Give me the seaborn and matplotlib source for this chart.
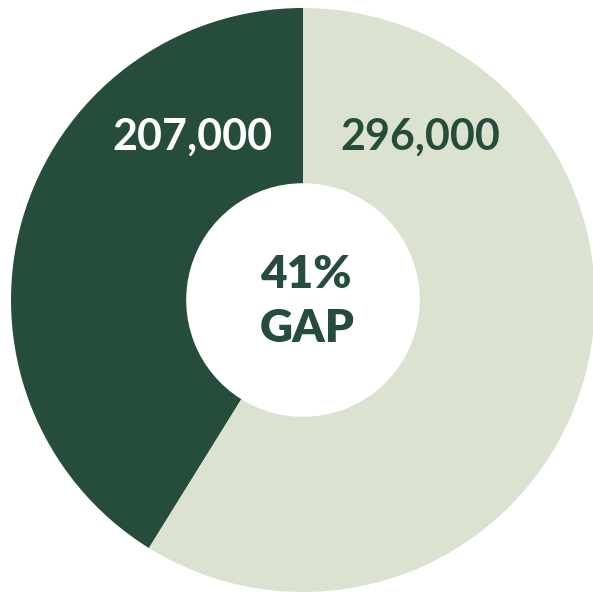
import matplotlib
matplotlib.use("Agg")
import matplotlib.pyplot as plt
import seaborn as sns

categories = ["Group A", "Group B"]
values = [207000, 296000]
value_labels = ["207,000", "296,000"]
center_lines = ["41%", "GAP"]
colors = ["#264d3b", "#dbe2cf"]
text_colors = ["white", "#264d3b"]

sns.set_style("white")
plt.rcParams['font.family'] = ['Lato', 'DejaVu Sans']

W, H = 593, 595
cx, cy, R = 303, 300, 292
fig = plt.figure(figsize=(W / 100, H / 100), dpi=100)
ax = fig.add_axes([0, 0, 1, 1])

wedges, _ = ax.pie(values, colors=colors, startangle=90, counterclock=True,
                   radius=1.0, wedgeprops=dict(width=0.6, linewidth=0))

ax.set_aspect('auto')
ax.set_xlim(-cx / R, (W - cx) / R)
ax.set_ylim(-(H - cy) / R, cy / R)
ax.axis('off')

def px(x, y):
    return (x - cx) / R, (cy - y) / R

positions = [(192, 137), (420, 137)]
for lbl, (x, y), c in zip(value_labels, positions, text_colors):
    ax.text(*px(x, y), lbl, color=c, fontsize=31, fontweight='bold',
            ha='center', va='center')

ax.text(*px(306, 274), center_lines[0], color="#264d3b", fontsize=33,
        fontweight='heavy', ha='center', va='center')
ax.text(*px(307, 329), center_lines[1], color="#264d3b", fontsize=33,
        fontweight='heavy', ha='center', va='center')

fig.savefig("out.png", dpi=100, facecolor="white")
